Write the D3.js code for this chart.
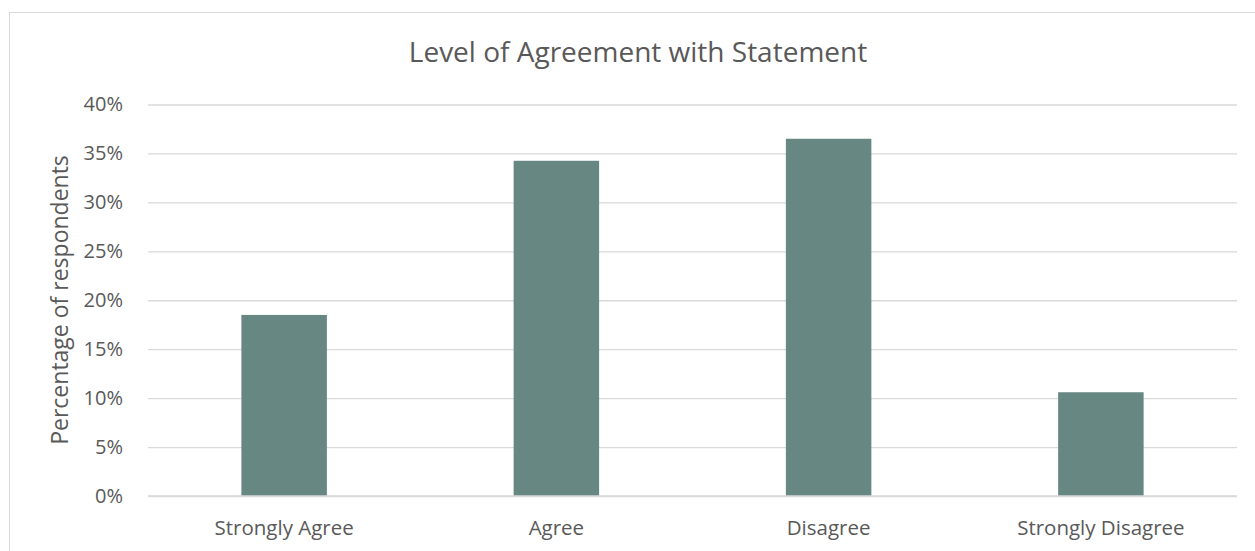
<!DOCTYPE html>
<html>
<head>
<meta charset="utf-8">
<script src="https://cdn.jsdelivr.net/npm/d3@7"></script>
<style>
  html, body { margin: 0; padding: 0; background: #fff; }
  svg { display: block; }
  text { font-family: "Open Sans", sans-serif; fill: #595959; }
</style>
</head>
<body>
<svg id="chart" width="1255" height="551"></svg>
<script>
const categories = ["Strongly Agree", "Agree", "Disagree", "Strongly Disagree"];
const values = [0.185, 0.3425, 0.365, 0.106];
const yTicks = [0, 0.05, 0.10, 0.15, 0.20, 0.25, 0.30, 0.35, 0.40];
const title = "Level of Agreement with Statement";
const yTitle = "Percentage of respondents";

const svg = d3.select("#chart");
const plot = { left: 148, right: 1237, top: 104.5, bottom: 496 };

// chart border
svg.append("rect")
  .attr("x", 9.5).attr("y", 12.5)
  .attr("width", 1300).attr("height", 600)
  .attr("fill", "none").attr("stroke", "#d9d9d9").attr("stroke-width", 1);

const x = d3.scaleBand()
  .domain(categories)
  .range([plot.left, plot.right])
  .paddingInner(0.686)
  .paddingOuter(0.343);

const y = d3.scaleLinear().domain([0, 0.40]).range([plot.bottom, plot.top]);

// gridlines
const yAxis = d3.axisLeft(y)
  .tickValues(yTicks)
  .tickFormat(d3.format(".0%"))
  .tickSize(-(plot.right - plot.left))
  .tickPadding(25);

const gy = svg.append("g")
  .attr("transform", `translate(${plot.left},0)`)
  .call(yAxis);
gy.select(".domain").remove();
gy.selectAll(".tick line").attr("stroke", "#d9d9d9").attr("stroke-width", 1.3);
gy.selectAll(".tick text")
  .attr("fill", "#595959")
  .style("font-size", "20px")
  .style("font-family", "'Open Sans', sans-serif");

// bars
svg.append("g").selectAll("rect")
  .data(values)
  .join("rect")
  .attr("x", (d, i) => x(categories[i]))
  .attr("width", x.bandwidth())
  .attr("y", d => y(d))
  .attr("height", d => y(0) - y(d))
  .attr("fill", "#678783");

// x axis
const xAxis = d3.axisBottom(x).tickSize(0).tickPadding(24);
const gx = svg.append("g")
  .attr("transform", `translate(0,${plot.bottom})`)
  .call(xAxis);
gx.select(".domain").attr("stroke", "#d9d9d9").attr("stroke-width", 1.3)
  .attr("d", `M${plot.left},0H${plot.right}`);
gx.selectAll(".tick text")
  .attr("fill", "#595959")
  .style("font-size", "20.5px")
  .style("font-family", "'Open Sans', sans-serif");

// title
svg.append("text")
  .attr("x", 638).attr("y", 62)
  .attr("text-anchor", "middle")
  .style("font-size", "28px")
  .text(title);

// y title
svg.append("text")
  .attr("transform", "translate(68,300) rotate(-90)")
  .attr("text-anchor", "middle")
  .style("font-size", "23px")
  .text(yTitle);
</script>
</body>
</html>
